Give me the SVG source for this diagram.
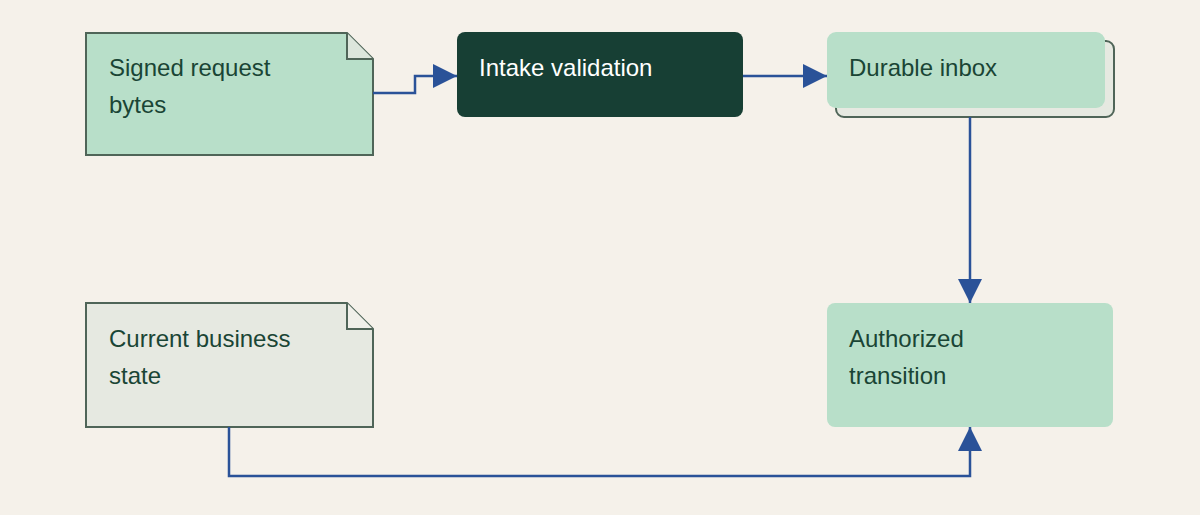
<svg xmlns="http://www.w3.org/2000/svg" width="1200" height="515" viewBox="0 0 1200 515">
<style>
text{font-family:"Liberation Sans",Arial,sans-serif;font-size:24px;fill:#1a4535}
.doc{stroke:#4f6558;stroke-width:2}
.c{fill:none;stroke:#2a5298;stroke-width:2.5}
</style>
<defs><marker id="a" viewBox="0 0 10 10" refX="10" refY="5" markerWidth="24" markerHeight="24" markerUnits="userSpaceOnUse" orient="auto"><path d="M0,0L10,5L0,10z" fill="#2a5298"/></marker></defs>
<rect width="1200" height="515" fill="#f5f1ea"/>
<g id="signed"><path class="doc" d="M86,33H347L373,59V155H86Z" fill="#b8dfc9"/><path class="doc" d="M347,33V59H373" fill="#dce6dc"/><text x="109" y="76">Signed request</text><text x="109" y="113">bytes</text></g>
<g id="intake"><rect x="457" y="32" width="286" height="85" rx="8" fill="#173f34"/><text x="479" y="76" style="fill:#fff">Intake validation</text></g>
<g id="inbox"><rect x="836" y="41" width="278" height="76" rx="8" fill="#e6e9e1" stroke="#4f6558" stroke-width="2"/><rect x="827" y="32" width="278" height="76" rx="9" fill="#b8dfc9"/><text x="849" y="76">Durable inbox</text></g>
<g id="current"><path class="doc" d="M86,303H347L373,329V427H86Z" fill="#e6e9e1"/><path class="doc" d="M347,303V329H373" fill="#f0f0ea"/><text x="109" y="347">Current business</text><text x="109" y="384">state</text></g>
<g id="auth"><rect x="827" y="303" width="286" height="124" rx="8" fill="#b8dfc9"/><text x="849" y="347">Authorized</text><text x="849" y="384">transition</text></g>
<g id="connectors">
<path class="c" d="M373,93H415V76H457" marker-end="url(#a)"/>
<path class="c" d="M743,76H827" marker-end="url(#a)"/>
<path class="c" d="M970,117V303" marker-end="url(#a)"/>
<path class="c" d="M229,427V476H970V427" marker-end="url(#a)"/>
</g>
</svg>
